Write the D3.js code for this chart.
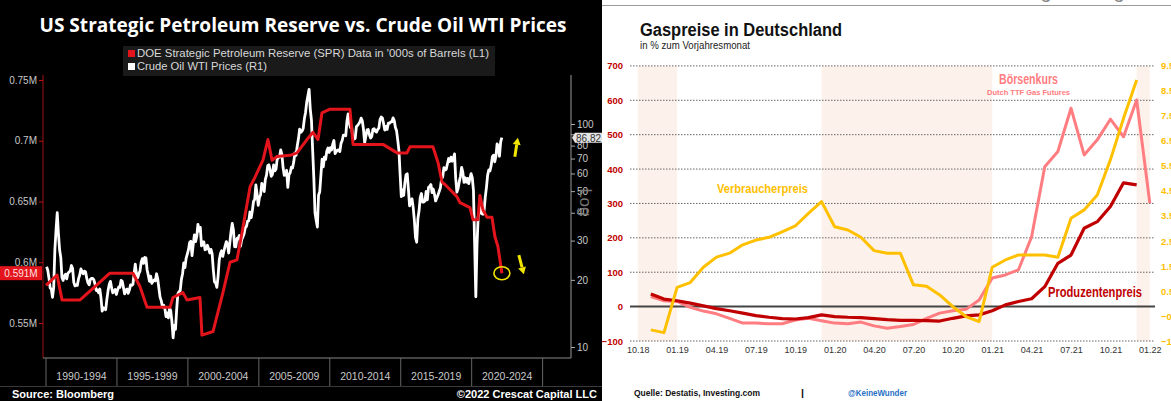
<!DOCTYPE html>
<html><head><meta charset="utf-8">
<script src="https://cdn.jsdelivr.net/npm/d3@7"></script>
<style>body{margin:0;background:#fff;overflow:hidden} svg{display:block}</style>
</head><body>
<svg id="c" width="1171" height="401"></svg>
<script>
// ---------------- LEFT CHART DATA ----------------
const leftTitle = "US Strategic Petroleum Reserve vs. Crude Oil WTI Prices";
const legendLabels = ["DOE Strategic Petroleum Reserve (SPR) Data in '000s of Barrels (L1)", "Crude Oil WTI Prices (R1)"];
const wtiStartYear = 1990;
const wtiMonthly = [
22.9,22.1,20.4,18.4,18.2,16.7,18.5,27.3,33.5,40.0,32.3,27.3,
25.2,20.5,19.9,20.8,21.2,20.2,21.4,21.7,21.9,23.2,22.5,19.5,
18.8,19.0,18.9,20.2,21.0,22.4,21.8,21.3,21.9,21.7,20.3,19.4,
19.0,20.1,20.3,20.3,20.0,19.1,17.9,18.0,17.5,18.2,16.6,14.5,
15.0,14.8,14.7,16.4,17.9,19.1,19.7,18.4,17.5,17.7,18.1,17.2,
18.0,18.6,18.5,19.9,19.7,18.5,17.3,18.0,18.2,17.4,18.0,19.0,
18.9,19.1,21.3,23.5,21.2,20.4,21.3,21.9,24.0,24.9,23.7,25.2,
25.1,22.2,21.0,19.7,20.8,19.3,19.7,20.0,19.8,21.3,20.2,18.3,
16.7,16.1,15.1,15.4,14.9,13.7,14.2,13.5,15.0,14.5,13.0,11.0,
12.5,12.0,14.7,17.3,17.7,17.9,20.1,21.3,23.8,22.7,25.0,26.1,
27.3,29.4,29.8,25.7,28.8,31.8,29.7,31.3,35.5,33.1,34.4,28.4,
29.6,29.6,27.3,27.5,28.6,27.6,26.4,27.4,26.2,22.2,19.6,19.4,
18.5,20.7,24.5,26.2,27.0,25.5,27.0,28.4,29.7,28.8,26.4,29.5,
33.0,35.8,33.5,28.2,28.1,30.7,30.8,31.6,28.3,30.3,31.1,32.1,
34.3,34.7,36.7,36.8,40.3,38.0,40.8,44.9,45.9,53.3,48.5,43.2,
46.8,48.2,54.2,53.0,49.8,56.4,59.0,65.0,65.6,62.3,58.3,59.4,
65.5,61.6,62.7,69.4,70.8,71.0,76.5,73.0,63.8,58.9,59.1,62.0,
52.0,59.3,60.4,64.0,63.5,67.5,74.1,72.4,79.9,85.8,94.8,91.7,
93.0,95.4,105.5,112.6,125.4,133.9,143.0,116.7,104.1,76.6,57.3,40.0,
37.0,34.5,47.9,49.7,59.0,69.6,64.2,71.1,69.4,75.7,78.0,74.5,
78.3,76.4,81.2,84.3,73.7,75.3,76.3,76.6,75.2,81.9,84.3,89.2,
89.2,88.6,102.9,111.0,100.9,96.3,97.3,86.3,85.5,86.3,97.2,98.6,
100.3,102.2,106.2,103.3,94.7,82.3,87.9,94.1,94.5,89.5,86.5,87.9,
94.8,95.3,92.9,92.0,94.5,95.8,104.7,107.5,106.3,100.5,93.9,97.6,
94.6,100.8,100.8,102.1,102.2,106.5,103.6,96.5,93.2,84.4,75.8,59.3,
47.2,50.6,47.8,54.5,59.3,59.8,50.9,42.9,45.5,46.2,42.4,37.2,
31.0,29.5,37.6,40.8,46.7,48.8,44.7,44.7,45.2,49.8,45.7,52.0,
52.5,53.5,49.3,51.1,48.5,45.2,46.6,48.0,49.8,51.6,56.6,57.9,
63.7,62.2,62.7,66.3,70.0,67.9,71.0,68.1,70.2,73.5,57.0,49.5,
51.4,55.0,58.2,63.9,60.8,54.7,57.4,54.8,57.0,54.0,57.0,59.9,
57.5,50.5,29.2,16.8,28.6,38.3,40.7,42.3,39.6,39.4,40.9,47.0,
52.0,59.0,62.3,61.7,65.2,71.4,72.5,67.7,71.7,81.5,79.2,71.7,
83.2,86.82];
const sprYears = [1990.0,1990.78,1991.13,1992.4,1993.45,1994.5,1996.13,1996.62,1997.12,1998.74,1998.95,1999.65,1999.94,2000.85,2000.99,2001.77,2002.47,2002.97,2003.46,2003.81,2004.38,2004.73,2005.29,2005.64,2005.93,2006.28,2007.2,2007.69,2008.39,2008.82,2009.17,2009.45,2010.01,2011.42,2011.64,2013.75,2014.74,2015.44,2015.65,2017.27,2017.63,2017.91,2018.12,2018.96,2019.18,2019.88,2020.09,2020.44,2020.58,2020.8,2021.08,2021.43,2021.64,2021.85,2022.13];
const sprValues = [0.581,0.5895,0.569,0.569,0.580,0.591,0.591,0.580,0.563,0.563,0.571,0.575,0.569,0.571,0.540,0.543,0.575,0.600,0.602,0.624,0.662,0.670,0.684,0.701,0.684,0.687,0.688,0.690,0.701,0.707,0.701,0.723,0.726,0.726,0.697,0.697,0.690,0.690,0.695,0.695,0.682,0.666,0.664,0.654,0.649,0.645,0.635,0.635,0.655,0.643,0.637,0.637,0.621,0.613,0.591];
const sprLast = 0.591;
const wtiLast = 86.82;
const sprTicks = [0.55,0.6,0.65,0.7,0.75];
const wtiTicks = [10,20,30,40,50,60,70,80,90,100];
const periodStarts = [1990,1995,2000,2005,2010,2015,2020,2025];
const periodLabels = ["1990-1994","1995-1999","2000-2004","2005-2009","2010-2014","2015-2019","2020-2024"];

// ---------------- RIGHT CHART DATA ----------------
const monthLabels = ["10.18","01.19","04.19","07.19","10.19","01.20","04.20","07.20","10.20","01.21","04.21","07.21","10.21","01.22"];
// month index 0 = Oct 2018; series start at index 1 (Nov 2018)
const produzentenpreis = [37,22,17,10,2,-6,-12,-19,-26,-31,-35,-36,-32,-24,-29,-31,-32,-35,-38,-40,-40,-41,-42,-34,-27,-24,-12,5,15,23,58,126,150,228,247,291,360,354];
const boersenkurs = [29,17,15,-2,-13,-21,-34,-48,-48,-50,-50,-39,-34,-41,-48,-50,-45,-56,-63,-58,-52,-34,-19,-12,-8,19,83,92,107,203,407,451,577,441,485,545,494,601,301];
const verbraucherpreis = [-1.03,-1.14,0.66,0.85,1.46,1.86,2.02,2.35,2.54,2.65,2.87,3.1,3.6,4.07,3.07,2.94,2.65,2.12,2.02,2.02,0.76,0.7,0.36,-0.11,-0.5,-0.7,1.46,1.75,1.95,1.95,1.95,1.86,3.41,3.74,4.33,5.73,7.38,8.9];
const shadeSpans = [[0,3],[14,27],[38,39]];
const leftTicksR = [-100,0,100,200,300,400,500,600,700];
const rightTicksR = [-1.5,-0.5,0.5,1.5,2.5,3.5,4.5,5.5,6.5,7.5,8.5,9.5];

const svg = d3.select("#c");

// ================= LEFT PANEL =================
const L = svg.append("g");
L.append("rect").attr("x",0).attr("y",0).attr("width",602).attr("height",401).attr("fill","#000");

const xL = d3.scaleLinear().domain([1990,2027]).range([46,571]);
const ySpr = d3.scaleLinear().domain([0.55,0.75]).range([323,80]);
const yWti = d3.scaleLog().domain([10,100]).range([347,124]);
const plotTop = 75, plotBottom = 358, leftAxisX = 43, rightAxisX = 571;

L.append("text").attr("x",303).attr("y",32).attr("text-anchor","middle")
  .attr("fill","#fff").attr("font-family","'Open Sans',sans-serif").attr("font-weight",700)
  .attr("font-size",19).attr("textLength",527).attr("lengthAdjust","spacingAndGlyphs").text(leftTitle);

// legend
L.append("rect").attr("x",123).attr("y",46).attr("width",372).attr("height",30).attr("fill","#1a1a1a");
const legColors = ["#e3141b","#ffffff"];
legendLabels.forEach((t,i)=>{
  const yy = 57 + i*13;
  L.append("rect").attr("x",128).attr("y",yy-7).attr("width",7).attr("height",7).attr("fill",legColors[i]);
  L.append("text").attr("x",137).attr("y",yy).attr("fill","#d8d8d8")
    .attr("font-family","'Liberation Sans',sans-serif").attr("font-size",11)
    .attr("textLength", i===0?352:130).attr("lengthAdjust","spacingAndGlyphs").text(t);
});

// axes frame lines
L.append("line").attr("x1",leftAxisX).attr("x2",leftAxisX).attr("y1",plotTop).attr("y2",plotBottom).attr("stroke","#a01010");
L.append("line").attr("x1",rightAxisX).attr("x2",rightAxisX).attr("y1",plotTop).attr("y2",plotBottom).attr("stroke","#9a9a9a");
L.append("line").attr("x1",leftAxisX).attr("x2",rightAxisX).attr("y1",plotBottom).attr("y2",plotBottom).attr("stroke","#888");

const axL = L.append("g").attr("transform",`translate(${leftAxisX},0)`)
  .call(d3.axisLeft(ySpr).tickValues(sprTicks).tickSize(4).tickPadding(2).tickFormat(d=>`${+d}M`));
axL.select(".domain").remove();
axL.selectAll("line").attr("stroke","#c01010");
axL.selectAll("text").attr("fill","#c8c8c8").attr("font-family","'Liberation Sans',sans-serif").attr("font-size",10);

const axR = L.append("g").attr("transform",`translate(${rightAxisX},0)`)
  .call(d3.axisRight(yWti).tickValues(wtiTicks).tickSize(4).tickPadding(2).tickFormat(d=>d===90?"":d));
axR.select(".domain").remove();
axR.selectAll("line").attr("stroke","#aaa");
axR.selectAll("text").attr("fill","#c8c8c8").attr("font-family","'Liberation Sans',sans-serif").attr("font-size",10);

L.append("text").attr("transform",`translate(${rightAxisX+9},${yWti(50)-3}) rotate(90)`)
  .attr("fill","#777").attr("font-family","'Liberation Sans',sans-serif").attr("font-size",17).text("Log");

// period separators and labels
periodStarts.forEach(y=>{
  L.append("line").attr("x1",xL(y)).attr("x2",xL(y)).attr("y1",plotBottom).attr("y2",386).attr("stroke","#666");
});
periodLabels.forEach((t,i)=>{
  L.append("text").attr("x",(xL(periodStarts[i])+xL(periodStarts[i+1]))/2).attr("y",380)
    .attr("text-anchor","middle").attr("fill","#c8c8c8").attr("font-family","'Liberation Sans',sans-serif")
    .attr("font-size",10.5).text(t);
});
L.append("line").attr("x1",0).attr("x2",602).attr("y1",386.5).attr("y2",386.5).attr("stroke","#3a3a3a");

// series
const wtiData = wtiMonthly.map((v,i)=>[wtiStartYear+(i+0.5)/12, v]);
L.append("path").datum(wtiData)
  .attr("d", d3.line().x(d=>xL(d[0])).y(d=>yWti(d[1])))
  .attr("fill","none").attr("stroke","#fff").attr("stroke-width",2.8).attr("stroke-linejoin","round");
const sprData = sprYears.map((y,i)=>[y, sprValues[i]]);
L.append("path").datum(sprData)
  .attr("d", d3.line().x(d=>xL(d[0])).y(d=>ySpr(d[1])))
  .attr("fill","none").attr("stroke","#e3141b").attr("stroke-width",3).attr("stroke-linejoin","round");

// last value labels
const sprEnd = sprData[sprData.length-1];
const wtiEnd = wtiData[wtiData.length-1];
const ys = ySpr(sprLast);
L.append("rect").attr("x",0).attr("y",ys-7).attr("width",leftAxisX-1).attr("height",14).attr("fill","#e3141b");
L.append("text").attr("x",(leftAxisX-1)/2).attr("y",ys+4).attr("text-anchor","middle").attr("fill","#ffe0e0")
  .attr("font-family","'Liberation Sans',sans-serif").attr("font-size",10).text(sprLast+"M");
const yw = yWti(wtiLast);
L.append("path").attr("d",`M${rightAxisX+1},${yw} L${rightAxisX+4},${yw-5} L602,${yw-5} L602,${yw+5} L${rightAxisX+4},${yw+5} Z`).attr("fill","#e4e4e4");
L.append("text").attr("x",rightAxisX+5).attr("y",yw+4).attr("fill","#333")
  .attr("font-family","'Liberation Sans',sans-serif").attr("font-size",10).text(wtiLast);

// annotations
const ann = "#f2e600";
L.append("ellipse").attr("cx",xL(sprEnd[0])).attr("cy",ySpr(sprEnd[1])).attr("rx",8).attr("ry",6.5)
  .attr("fill","none").attr("stroke",ann).attr("stroke-width",1.6);
function arrow(x1,y1,x2,y2){
  const a = Math.atan2(y2-y1,x2-x1), h=7, w=4;
  const bx = x2-h*Math.cos(a), by = y2-h*Math.sin(a);
  L.append("line").attr("x1",x1).attr("y1",y1).attr("x2",bx).attr("y2",by).attr("stroke",ann).attr("stroke-width",3);
  L.append("path").attr("d",`M${x2},${y2} L${bx+w*Math.sin(a)},${by-w*Math.cos(a)} L${bx-w*Math.sin(a)},${by+w*Math.cos(a)} Z`).attr("fill",ann);
}
const ex = xL(wtiEnd[0]);
arrow(ex+13, yw+19, ex+16, yw);
arrow(ex+17, ys-18, ex+22, ys+1);

// footer
L.append("text").attr("x",12).attr("y",398).attr("fill","#fff").attr("font-family","'Liberation Sans',sans-serif")
  .attr("font-weight",700).attr("font-size",11).text("Source: Bloomberg");
L.append("text").attr("x",597).attr("y",398).attr("text-anchor","end").attr("fill","#fff").attr("font-family","'Liberation Sans',sans-serif")
  .attr("font-weight",700).attr("font-size",11).text("©2022 Crescat Capital LLC");

// ================= RIGHT PANEL =================
const R = svg.append("g");
R.append("rect").attr("x",602).attr("y",0).attr("width",569).attr("height",401).attr("fill","#fff");
R.append("line").attr("x1",602).attr("x2",1171).attr("y1",5.5).attr("y2",5.5).attr("stroke","#9a9a9a");
["g","g"].forEach((g,i)=>R.append("text").attr("x",[1046,1119][i]).attr("y",-2).attr("text-anchor","middle")
  .attr("fill","#888").attr("font-family","'Liberation Sans',sans-serif").attr("font-size",20).text(g));

const xR = d3.scaleLinear().domain([0,39]).range([637.7,1149.8]);
const yRL = d3.scaleLinear().domain([-100,700]).range([341,65.9]);
const yRR = d3.scaleLinear().domain([-1.5,9.5]).range([341.7,65]);
const gx0 = 630, gx1 = 1155;

R.append("text").attr("x",640).attr("y",36).attr("fill","#111").attr("font-family","'Liberation Sans',sans-serif")
  .attr("font-weight",700).attr("font-size",18).attr("textLength",202).attr("lengthAdjust","spacingAndGlyphs").text("Gaspreise in Deutschland");
R.append("text").attr("x",640).attr("y",49).attr("fill","#222").attr("font-family","'Liberation Sans',sans-serif")
  .attr("font-size",10).attr("textLength",110).attr("lengthAdjust","spacingAndGlyphs").text("in % zum Vorjahresmonat");

shadeSpans.forEach(s=>{
  R.append("rect").attr("x",xR(s[0])).attr("y",yRL(700)).attr("width",xR(s[1])-xR(s[0]))
    .attr("height",yRL(-100)-yRL(700)).attr("fill","#fdf1eb");
});
leftTicksR.forEach(v=>{
  R.append("line").attr("x1",gx0).attr("x2",gx1).attr("y1",yRL(v)).attr("y2",yRL(v))
    .attr("stroke", v===0?"#444":"#666").attr("stroke-width", v===0?2:1)
    .attr("stroke-dasharray", v===0?null:"1.5,1.5");
});
const axRL = R.append("g").attr("transform","translate(623,0)")
  .call(d3.axisLeft(yRL).tickValues(leftTicksR).tickSize(0).tickPadding(0));
axRL.select(".domain").remove();
axRL.selectAll("text").attr("fill","#c00000").attr("font-weight",700).attr("font-family","'Liberation Sans',sans-serif").attr("font-size",9.5);
const axRR = R.append("g").attr("transform","translate(1161,0)")
  .call(d3.axisRight(yRR).tickValues(rightTicksR).tickSize(0).tickPadding(0).tickFormat(d3.format(".1f")));
axRR.select(".domain").remove();
axRR.selectAll("text").attr("fill","#ffc000").attr("font-weight",700).attr("font-family","'Liberation Sans',sans-serif").attr("font-size",9.5);
const axRX = R.append("g").attr("transform","translate(0,347)")
  .call(d3.axisBottom(xR).tickValues(monthLabels.map((d,i)=>i*3)).tickSize(0).tickPadding(0).tickFormat((d,i)=>monthLabels[i]));
axRX.select(".domain").remove();
axRX.selectAll("text").attr("fill","#333").attr("font-family","'Liberation Sans',sans-serif").attr("font-size",9);

const lineR = (arr, y) => d3.line().x((d,i)=>xR(i+1)).y(d=>y(d))(arr);
R.append("path").attr("d",lineR(boersenkurs,yRL)).attr("fill","none").attr("stroke","#ff7c80").attr("stroke-width",3).attr("stroke-linejoin","round");
R.append("path").attr("d",lineR(produzentenpreis,yRL)).attr("fill","none").attr("stroke","#c00000").attr("stroke-width",3.2).attr("stroke-linejoin","round");
R.append("path").attr("d",lineR(verbraucherpreis,yRR)).attr("fill","none").attr("stroke","#ffc000").attr("stroke-width",3).attr("stroke-linejoin","round");

const lab = (t,x,y,fs,col,len,anchor)=>R.append("text").attr("x",x).attr("y",y).attr("fill",col).attr("text-anchor",anchor||"start")
  .attr("font-family","'Liberation Sans',sans-serif").attr("font-weight",700).attr("font-size",fs)
  .attr("textLength",len).attr("lengthAdjust","spacingAndGlyphs").text(t);
lab("Verbraucherpreis",717,193,13,"#ffc000",91);
lab("Börsenkurs",1028.5,84,14,"#ff7c80",59,"middle");
lab("Dutch TTF Gas Futures",1028.5,95,8,"#ff7c80",83,"middle");
lab("Produzentenpreis",1048,297,14,"#c00000",94);
lab("Quelle: Destatis, Investing.com",634,396,9.5,"#111",126);
lab("|",801,396,9.5,"#111",3);
lab("@KeineWunder",848,396,9.5,"#1f6fc5",59);
</script>
</body></html>
